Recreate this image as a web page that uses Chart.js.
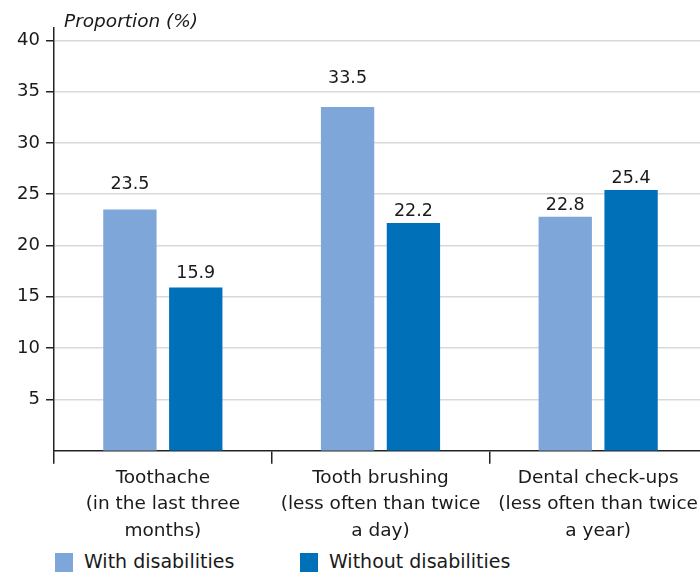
<!DOCTYPE html>
<html>
<head>
<meta charset="utf-8">
<script src="https://cdn.jsdelivr.net/npm/chart.js@4/dist/chart.umd.min.js"></script>
<style>
  body { margin: 0; background: #fff; overflow: hidden; width: 700px; height: 572px; position: relative; font-family: 'DejaVu Sans', sans-serif; }
  #wrap { position: absolute; left: 0; top: 0; width: 707px; height: 545px; }
  .legend-item { position: absolute; top: 553px; height: 19px; font-size: 19px; line-height: 19px; color: #1a1a1a; white-space: nowrap; }
  .legend-item span.box { position: absolute; left: 0; top: 0; width: 18px; height: 19px; }
  .legend-item span.txt { position: absolute; left: 29px; top: -1px; }
</style>
</head>
<body>
<div id="wrap"><canvas id="chart" width="707" height="545"></canvas></div>
<div id="legend"></div>
<script>
const categories = [
  ['Toothache', '(in the last three', 'months)'],
  ['Tooth brushing', '(less often than twice', 'a day)'],
  ['Dental check-ups', '(less often than twice', 'a year)']
];
const seriesNames = ['With disabilities', 'Without disabilities'];
const withDisabilities = [23.5, 33.5, 22.8];
const withoutDisabilities = [15.9, 22.2, 25.4];
const yTicks = [5, 10, 15, 20, 25, 30, 35, 40];
const yTitle = 'Proportion (%)';

const colors = ['#7fa6d8', '#0070b9'];
const FONT = 'DejaVu Sans';
const TEXT = '#1a1a1a';

// extra lift of some value labels, as in the original layout
const labelLift = [[13, 17, 0], [2, 0, 0]];

const valueLabels = {
  id: 'valueLabels',
  afterDatasetsDraw(chart) {
    const ctx = chart.ctx;
    ctx.save();
    ctx.font = '17.5px "' + FONT + '"';
    ctx.fillStyle = TEXT;
    ctx.textAlign = 'center';
    ctx.textBaseline = 'bottom';
    chart.data.datasets.forEach((ds, i) => {
      chart.getDatasetMeta(i).data.forEach((bar, j) => {
        ctx.fillText(ds.data[j].toFixed(1), bar.x, bar.y - 3 - labelLift[i][j]);
      });
    });
    ctx.restore();
  }
};

const axisTitle = {
  id: 'axisTitle',
  afterDraw(chart) {
    const ctx = chart.ctx;
    ctx.save();
    ctx.font = 'italic 18.5px "' + FONT + '"';
    ctx.fillStyle = TEXT;
    ctx.textAlign = 'left';
    ctx.textBaseline = 'middle';
    ctx.fillText(yTitle, chart.chartArea.left + 10, 22);
    ctx.restore();
  }
};

new Chart(document.getElementById('chart'), {
  type: 'bar',
  data: {
    labels: categories,
    datasets: [
      { label: seriesNames[0], data: withDisabilities, backgroundColor: colors[0] },
      { label: seriesNames[1], data: withoutDisabilities, backgroundColor: colors[1] }
    ]
  },
  options: {
    responsive: false,
    animation: false,
    barPercentage: 0.81,
    categoryPercentage: 0.605,
    layout: { padding: { top: 28, left: 0, right: 0, bottom: 0 } },
    plugins: { legend: { display: false }, tooltip: { enabled: false } },
    scales: {
      x: {
        offset: true,
        grid: { offset: true, drawOnChartArea: false, drawTicks: true, tickLength: 13, tickColor: '#222', lineWidth: 1.5 },
        border: { color: '#222', width: 1.5 },
        ticks: { color: TEXT, font: { family: FONT, size: 18.5, lineHeight: 1.43 }, padding: 1, maxRotation: 0, autoSkip: false }
      },
      y: {
        min: 0,
        max: 41.2,
        afterBuildTicks: s => { s.ticks = yTicks.map(v => ({ value: v })); },
        afterFit: s => { s.width = 54; },
        grid: { color: '#d9d9d9', lineWidth: 1.5, tickColor: '#222', tickLength: 8, drawTicks: true },
        border: { color: '#222', width: 1.5 },
        ticks: { color: TEXT, font: { family: FONT, size: 18 }, padding: 6 }
      }
    }
  },
  plugins: [valueLabels, axisTitle]
});

const legend = document.getElementById('legend');
const legendX = [55, 300];
seriesNames.forEach((name, i) => {
  const item = document.createElement('div');
  item.className = 'legend-item';
  item.style.left = legendX[i] + 'px';
  item.innerHTML = '<span class="box" style="background:' + colors[i] + '"></span><span class="txt">' + name + '</span>';
  legend.appendChild(item);
});
</script>
</body>
</html>
